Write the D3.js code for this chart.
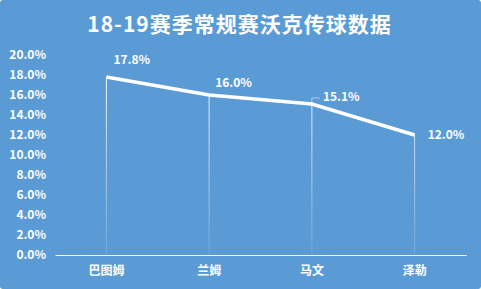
<!DOCTYPE html>
<html>
<head>
<meta charset="utf-8">
<script src="https://cdn.jsdelivr.net/npm/d3@7"></script>
<style>
  body { margin: 0; background: #fff; }
  text { font-family: "Noto Sans CJK SC", "Noto Sans", sans-serif; fill: #fff; font-weight: bold; }
</style>
</head>
<body>
<div class="chart"></div>
<script>
// chart data
var players = ["巴图姆", "兰姆", "马文", "泽勒"];
var passRate = [17.8, 16.0, 15.1, 12.0];
var yTicks = [0, 2, 4, 6, 8, 10, 12, 14, 16, 18, 20];

const W = 481, H = 289;
const Margin = { top: 55, right: 15, bottom: 34, left: 55 };
const Width = W - Margin.left - Margin.right;
const Height = H - Margin.top - Margin.bottom;

var svg = d3.select(".chart").append("svg")
  .attr("width", W)
  .attr("height", H);

svg.append("rect")
  .attr("width", W).attr("height", H)
  .attr("rx", 3)
  .attr("fill", "#5b9bd5");

// gradient for the drop lines (user space, since a vertical line has no bbox width)
var grad = svg.append("defs").append("linearGradient")
  .attr("id", "drop")
  .attr("gradientUnits", "userSpaceOnUse")
  .attr("x1", 0).attr("x2", 0).attr("y1", 20).attr("y2", Height);
grad.append("stop").attr("offset", "0%").attr("stop-color", "#fff").attr("stop-opacity", 0.95);
grad.append("stop").attr("offset", "100%").attr("stop-color", "#fff").attr("stop-opacity", 0.12);

// title
svg.append("text")
  .attr("x", W / 2 - 1)
  .attr("y", 32)
  .attr("text-anchor", "middle")
  .style("font-size", "21px")
  .style("letter-spacing", "1px")
  .text("18-19赛季常规赛沃克传球数据");

var g = svg.append("g")
  .attr("transform", "translate(" + Margin.left + "," + Margin.top + ")");

// scales
const x = d3.scaleBand().domain(players).range([0, Width]);
const y = d3.scaleLinear().domain([0, 20]).range([Height, 0]);

var data = players.map(function(p, i) { return { name: p, v: passRate[i] }; });
var cx = function(d) { return x(d.name) + x.bandwidth() / 2; };

// y axis labels
var yAxis = g.append("g")
  .call(d3.axisLeft(y).tickValues(yTicks).tickSize(0).tickPadding(9)
    .tickFormat(function(d) { return d.toFixed(1) + "%"; }));
yAxis.select(".domain").remove();
yAxis.selectAll("text").style("font-size", "12px").attr("fill", "#fff");

// x axis
var xAxis = g.append("g")
  .attr("transform", "translate(0," + Height + ")")
  .call(d3.axisBottom(x).tickSize(0).tickPadding(11));
xAxis.select(".domain").attr("stroke", "#fff").attr("stroke-width", 1.2);
xAxis.selectAll("text").style("font-size", "12px").attr("fill", "#fff");

// drop lines
g.selectAll(".drop")
  .data(data)
  .enter().append("line")
  .attr("class", "drop")
  .attr("x1", cx).attr("x2", cx)
  .attr("y1", function(d) { return y(d.v); })
  .attr("y2", Height)
  .attr("stroke", "url(#drop)")
  .attr("stroke-width", 1);

// the line
const valueline = d3.line()
  .x(cx)
  .y(function(d) { return y(d.v); });

g.append("path")
  .datum(data)
  .attr("fill", "none")
  .attr("stroke", "#fff")
  .attr("stroke-width", 3.5)
  .attr("d", valueline);

// data labels
var offs = [[7, -13], [6, -8], [11, -3], [13, 4]];
g.selectAll(".lbl")
  .data(data)
  .enter().append("text")
  .attr("class", "lbl")
  .attr("x", function(d, i) { return cx(d) + offs[i][0]; })
  .attr("y", function(d, i) { return y(d.v) + offs[i][1]; })
  .style("font-size", "12px")
  .text(function(d) { return d.v.toFixed(1) + "%"; });

// little leader for 15.1%
var m = data[2];
g.append("path")
  .attr("d", "M" + cx(m) + "," + (y(m.v) - 1) + "V" + (y(m.v) - 6) + "H" + (cx(m) + 8))
  .attr("fill", "none")
  .attr("stroke", "#fff")
  .attr("stroke-opacity", 0.5)
  .attr("stroke-width", 1);
</script>
</body>
</html>
